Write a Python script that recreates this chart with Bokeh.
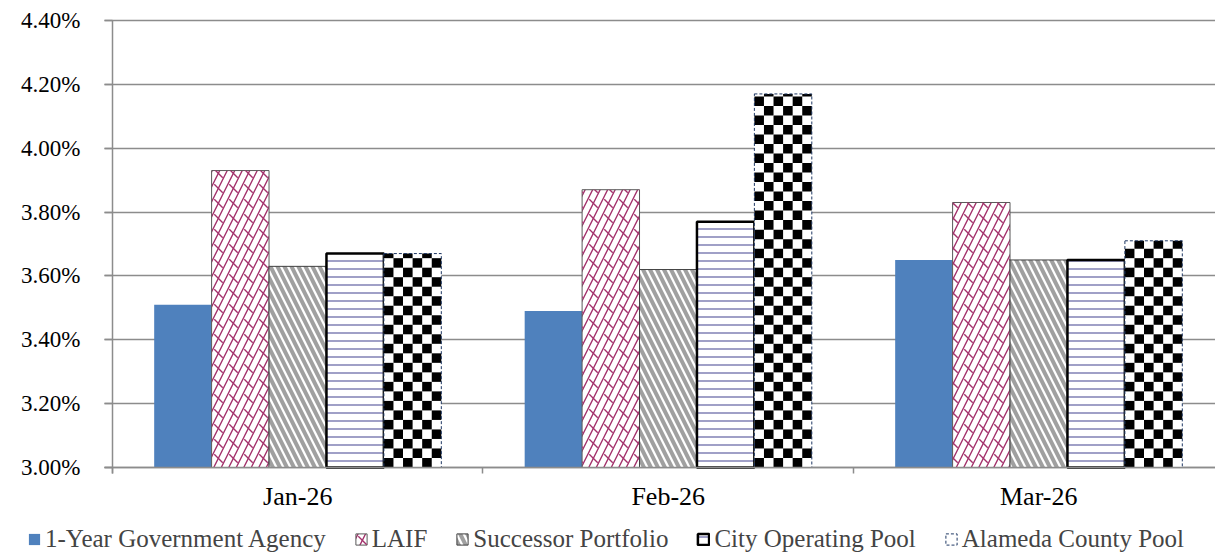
from bokeh.plotting import figure
from bokeh.models import (ColumnDataSource, FixedTicker, PrintfTickFormatter, Legend,
                          LegendItem, Range1d)
from bokeh.embed import file_html
from bokeh.resources import INLINE

# ---- data ----
months = ["Jan-26", "Feb-26", "Mar-26"]
series = ["1-Year Government Agency", "LAIF", "Successor Portfolio",
          "City Operating Pool", "Alameda County Pool"]
agency = [3.51, 3.49, 3.65]
laif = [3.93, 3.87, 3.83]
successor = [3.63, 3.62, 3.65]
city_pool = [3.67, 3.77, 3.65]
alameda = [3.67, 4.17, 3.71]
y_ticks = [3.00, 3.20, 3.40, 3.60, 3.80, 4.00, 4.20, 4.40]

FONT = "Liberation Serif"
GRID = "#8c8c8c"
PINK = "#A3316B"
BAR_W = 0.155
CHECK_COLS = 6          # checker squares across one bar
CHECK_H = 0.0298        # checker square height, in % units

centers = [i + 0.5 for i in range(len(months))]

# the frame fills the canvas; axes sit at fixed data positions inside it
p = figure(width=1215, height=555, output_backend="svg", toolbar_location=None,
           x_range=Range1d(-0.3023, 2.9771), y_range=Range1d(2.7244, 4.4626),
           min_border=0)
p.outline_line_color = None


def xs_for(k):
    return [c + (k - 2) * BAR_W for c in centers]


def bars(k, vals, **st):
    src = ColumnDataSource(dict(x=xs_for(k), top=vals))
    return p.vbar(x="x", top="top", bottom=y_ticks[0], width=BAR_W, source=src, **st)


r_agency = bars(0, agency, fill_color="#4F81BD", line_color=None)
r_laif1 = bars(1, laif, fill_color="white", line_color="#595959", line_width=1,
               hatch_pattern="/", hatch_color=PINK, hatch_scale=15, hatch_weight=1.4)
r_laif2 = bars(1, laif, fill_alpha=0, line_color=None,
               hatch_pattern="`", hatch_color=PINK, hatch_scale=15, hatch_weight=1.4)
r_succ = bars(2, successor, fill_color="white", line_color="#404040", line_width=1,
              hatch_pattern="\\", hatch_color="#a0a0a0", hatch_scale=14, hatch_weight=4)
r_city = bars(3, city_pool, fill_color="white", line_color="black", line_width=2.5,
              hatch_pattern="-", hatch_color="#6c6ca8", hatch_scale=8, hatch_weight=1.3)
r_ala1 = bars(4, alameda, fill_color="white", line_color=None)
cl, cr, cb, ct = [], [], [], []
cw = BAR_W / CHECK_COLS
for xc, top in zip(xs_for(4), alameda):
    left0 = xc - BAR_W / 2
    row = 0
    yb = y_ticks[0]
    while yb < top - 1e-9:
        yt = min(yb + CHECK_H, top)
        for col in range(CHECK_COLS):
            if (row + col) % 2 == 0:
                cl.append(left0 + col * cw)
                cr.append(left0 + (col + 1) * cw)
                cb.append(yb)
                ct.append(yt)
        row += 1
        yb += CHECK_H
p.quad(left=cl, right=cr, bottom=cb, top=ct, fill_color="black", line_color=None)
r_ala2 = bars(4, alameda, fill_alpha=0, line_color="#1F3864", line_width=1, line_dash="3 2")

# axes
p.yaxis.fixed_location = 0
p.xaxis.fixed_location = y_ticks[0]
p.yaxis.bounds = (2.981, y_ticks[-1])
p.xaxis.bounds = (-0.0216, 2.9771)
p.xaxis.axis_line_color = GRID
p.yaxis.axis_line_color = GRID
p.xaxis.axis_line_width = 1.5
p.yaxis.axis_line_width = 1.5
p.xaxis.major_label_text_font = FONT
p.yaxis.major_label_text_font = FONT
p.xaxis.major_label_text_color = "black"
p.yaxis.major_label_text_color = "black"

p.yaxis.ticker = FixedTicker(ticks=y_ticks)
p.yaxis.formatter = PrintfTickFormatter(format="%.2f%%")
p.yaxis.major_tick_out = 8
p.yaxis.major_tick_in = 0
p.yaxis.major_tick_line_color = GRID
p.yaxis.major_tick_line_width = 1.5
p.yaxis.minor_tick_line_color = None
p.yaxis.major_label_text_font_size = "23px"
p.yaxis.major_label_standoff = 24

p.xaxis.ticker = FixedTicker(ticks=centers, minor_ticks=list(range(len(months) + 1)))
p.xaxis.major_label_overrides = {c: m for c, m in zip(centers, months)}
p.xaxis.major_tick_line_color = None
p.xaxis.minor_tick_out = 6
p.xaxis.minor_tick_in = 0
p.xaxis.minor_tick_line_color = GRID
p.xaxis.minor_tick_line_width = 1.5
p.xaxis.major_label_text_font_size = "26px"
p.xaxis.major_label_standoff = 8

p.xgrid.grid_line_color = None
p.ygrid.ticker = FixedTicker(ticks=y_ticks)
p.ygrid.grid_line_color = GRID
p.ygrid.grid_line_width = 1.5
g = p.ygrid[0]
if "cross_bounds" in g.properties():
    g.cross_bounds = (-0.0216, 2.9771)

items = [
    LegendItem(label=series[0], renderers=[r_agency]),
    LegendItem(label=series[1], renderers=[r_laif1, r_laif2]),
    LegendItem(label=series[2], renderers=[r_succ]),
    LegendItem(label=series[3], renderers=[r_city]),
    LegendItem(label=series[4], renderers=[r_ala1, r_ala2]),
]
legend = Legend(items=items, orientation="horizontal", location=(27, 2),
                glyph_width=14, glyph_height=14, label_standoff=4, spacing=28,
                padding=0, margin=0, border_line_color=None,
                background_fill_alpha=0, label_text_font=FONT,
                label_text_font_size="25px", label_height=24)
p.add_layout(legend, "center")

open("out.html", "w").write(file_html(p, INLINE))
